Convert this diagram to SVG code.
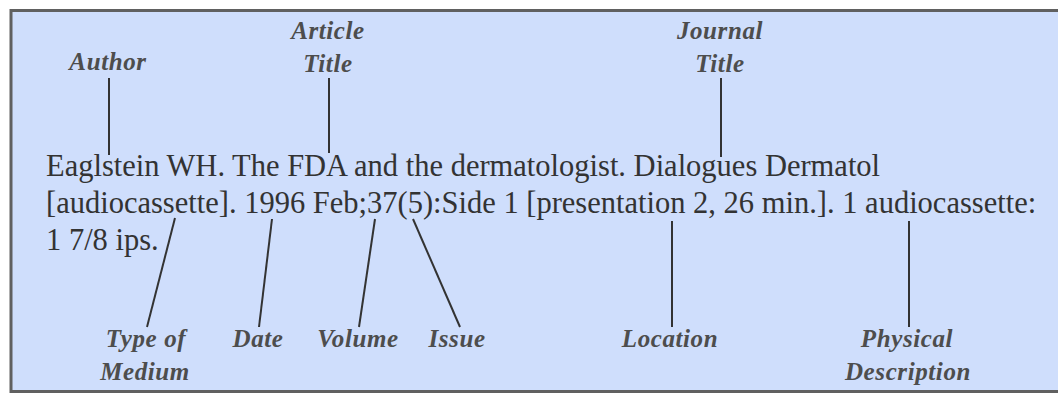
<svg xmlns="http://www.w3.org/2000/svg" width="1058" height="395" viewBox="0 0 1058 395">
<style>
.main{font-family:"Liberation Serif","Times New Roman",serif;font-size:30.5px;fill:#333}
.lbl{font-family:"Liberation Serif","Times New Roman",serif;font-size:25px;font-style:italic;font-weight:bold;fill:#4d4d4d;text-anchor:middle;letter-spacing:0.6px}
.ln{stroke:#333;stroke-width:2;fill:none}
</style>
<rect x="0" y="0" width="1058" height="395" fill="#ffffff"/>
<rect x="11" y="10.5" width="1060" height="381" fill="#cfdefc" stroke="#606060" stroke-width="3"/>
<g id="citation">
<text class="main" x="46" y="176">Eaglstein WH. The FDA and the dermatologist. Dialogues Dermatol</text>
<text class="main" x="46" y="213">[audiocassette]. 1996 Feb;37(5):Side 1 [presentation 2, 26 min.]. 1 audiocassette:</text>
<text class="main" x="46" y="250">1 7/8 ips.</text>
</g>
<g id="author"><text class="lbl" x="108" y="70">Author</text></g>
<g id="article-title"><text class="lbl" x="328" y="39">Article</text><text class="lbl" x="328" y="72">Title</text></g>
<g id="journal-title"><text class="lbl" x="720" y="39">Journal</text><text class="lbl" x="720" y="72">Title</text></g>
<g id="type-of-medium"><text class="lbl" x="146" y="347">Type of</text><text class="lbl" x="145" y="380">Medium</text></g>
<g id="date"><text class="lbl" x="258" y="347">Date</text></g>
<g id="volume"><text class="lbl" x="358" y="347">Volume</text></g>
<g id="issue"><text class="lbl" x="457" y="347">Issue</text></g>
<g id="location"><text class="lbl" x="670" y="347">Location</text></g>
<g id="physical-description"><text class="lbl" x="907" y="347">Physical</text><text class="lbl" x="908" y="380">Description</text></g>
<g id="connectors">
<line class="ln" x1="109" y1="78" x2="109" y2="155"/>
<line class="ln" x1="329" y1="78" x2="329" y2="153"/>
<line class="ln" x1="721" y1="78" x2="721" y2="157"/>
<line class="ln" x1="175" y1="218" x2="147" y2="327"/>
<line class="ln" x1="272" y1="219" x2="259" y2="327"/>
<line class="ln" x1="375" y1="219" x2="359" y2="327"/>
<line class="ln" x1="413" y1="219" x2="460" y2="327"/>
<line class="ln" x1="672" y1="221" x2="672" y2="327"/>
<line class="ln" x1="909" y1="221" x2="909" y2="327"/>
</g>
</svg>
